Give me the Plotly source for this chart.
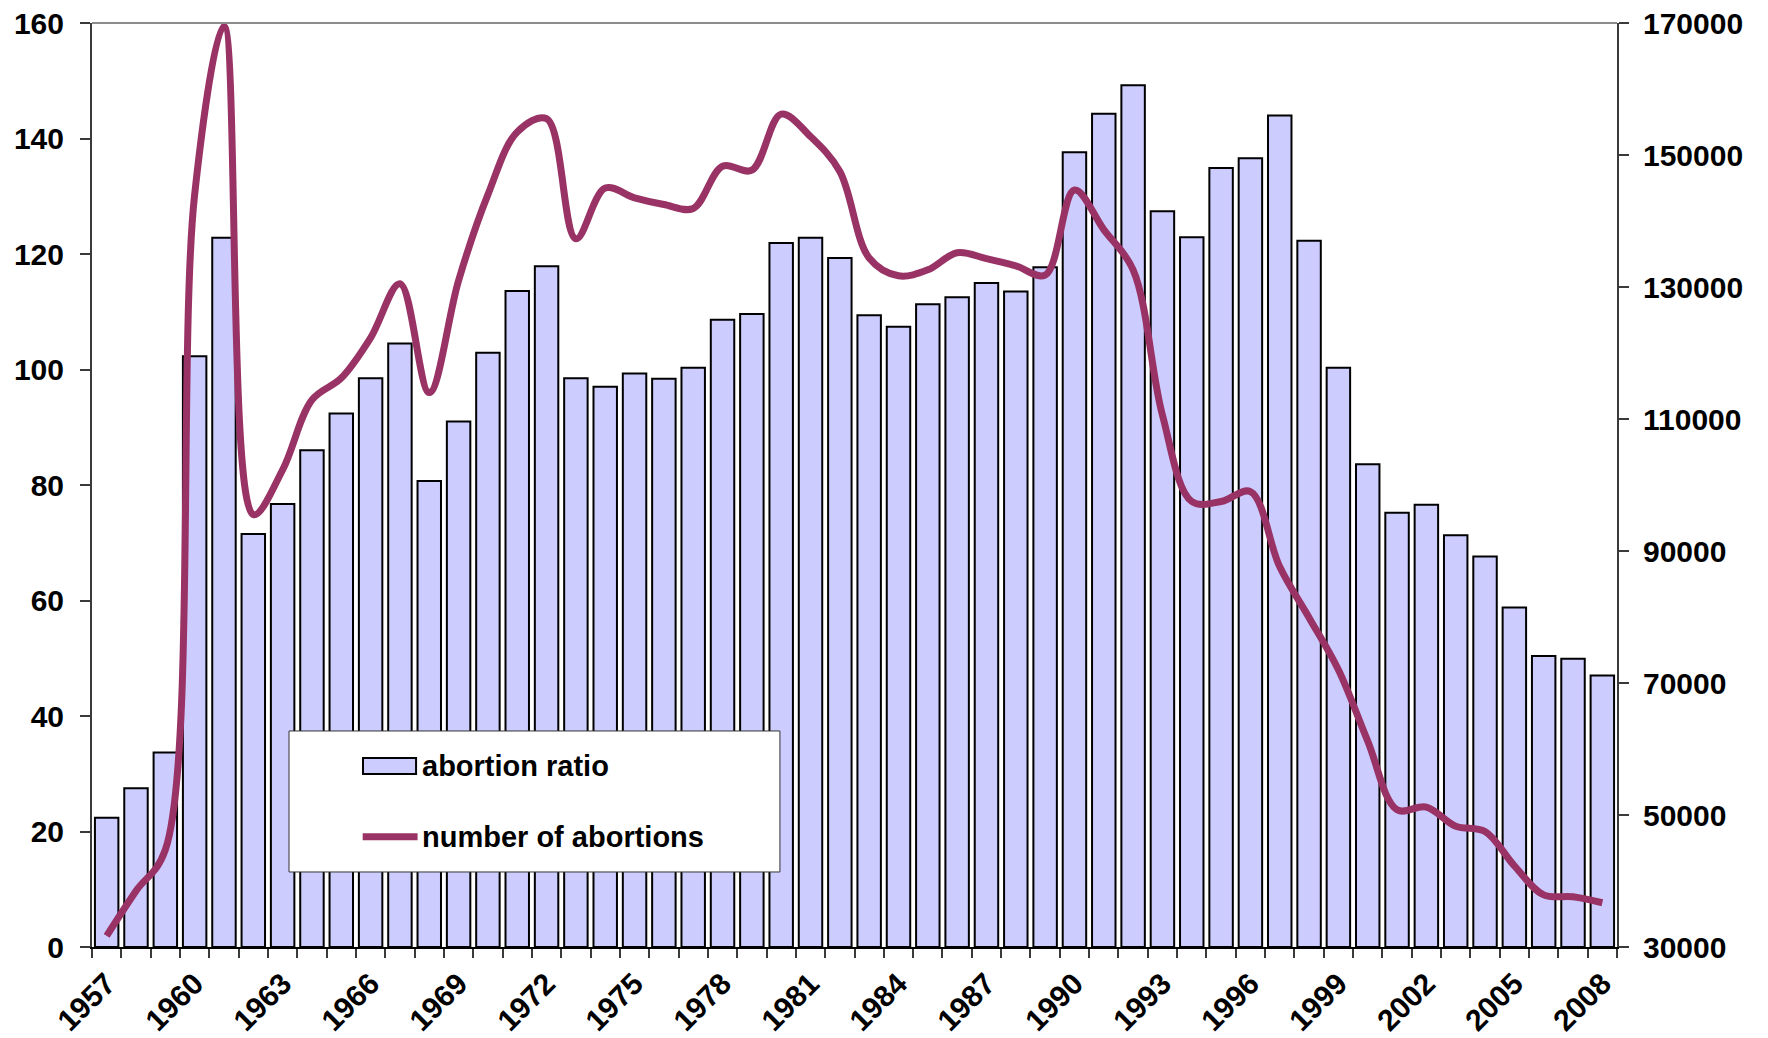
import plotly.graph_objects as go

years = list(range(1957, 2009))

abortion_ratio = [22.4, 27.5, 33.7, 102.3, 122.8, 71.5, 76.7, 86.0, 92.4, 98.5,
                  104.5, 80.7, 91.0, 102.9, 113.6, 117.9, 98.5, 97.0, 99.3, 98.4,
                  100.3, 108.6, 109.6, 121.9, 122.8, 119.3, 109.4, 107.4, 111.3, 112.5,
                  115.0, 113.5, 117.7, 137.6, 144.3, 149.2, 127.4, 122.9, 134.9, 136.6,
                  144.0, 122.3, 100.3, 83.6, 75.2, 76.6, 71.3, 67.6, 58.8, 50.4,
                  49.9, 47.0]

number_of_abortions = [31700, 38500, 44700, 144000, 169500, 95500, 102300, 112900, 116200, 122300,
                       130500, 114000, 131000, 144000, 153500, 155500, 137300, 145000, 143500, 142500,
                       141900, 148300, 147700, 156200, 152800, 147500, 134400, 131700, 132600, 135200,
                       134300, 133200, 131800, 144700, 138700, 132600, 110600, 97500, 97500, 99000,
                       87600, 79900, 72000, 61200, 50800, 51200, 48300, 47500, 42300, 37900,
                       37600, 36700]

series_names = ["abortion ratio", "number of abortions"]
label_years = years[::3]
left_ticks = list(range(0, 161, 20))
right_ticks = list(range(30000, 170001, 20000))
boundaries = [y - 0.5 for y in years] + [years[-1] + 0.5]

FONT = "Liberation Sans, Arial, sans-serif"
AX = "#3a3a3a"
BAR_FILL = "#CCCCFF"
LINE_COL = "#993366"

fig = go.Figure()
fig.add_trace(go.Bar(
    x=years, y=abortion_ratio, name=series_names[0],
    marker=dict(color=BAR_FILL, line=dict(color="black", width=2)),
    yaxis="y", showlegend=False,
))
fig.add_trace(go.Scatter(
    x=years, y=number_of_abortions, name=series_names[1],
    mode="lines", line=dict(color=LINE_COL, width=7, shape="spline", smoothing=1.0),
    yaxis="y2", showlegend=False,
))

xr = [years[0] - 0.5, years[-1] + 0.5]

# legend box (drawn manually to match the original's wide box and long keys)
legend_shapes = [
    dict(type="rect", xref="paper", yref="paper", x0=0.1292, x1=0.4511,
         y0=0.0812, y1=0.2338, fillcolor="white",
         line=dict(color="#333333", width=1), layer="above"),
    dict(type="rect", xref="paper", yref="paper", x0=0.1777, x1=0.2125,
         y0=0.1872, y1=0.2045, fillcolor=BAR_FILL,
         line=dict(color="black", width=2), layer="above"),
    dict(type="line", xref="paper", yref="paper", x0=0.1775, x1=0.2135,
         y0=0.1194, y1=0.1194, line=dict(color=LINE_COL, width=7), layer="above"),
]
legend_texts = [
    dict(text=series_names[0], xref="paper", yref="paper", x=0.2150, y=0.1959,
         xanchor="left", yanchor="middle", showarrow=False,
         font=dict(family=FONT, size=29, color="black", weight=700)),
    dict(text=series_names[1], xref="paper", yref="paper", x=0.2150, y=0.1194,
         xanchor="left", yanchor="middle", showarrow=False,
         font=dict(family=FONT, size=29, color="black", weight=700)),
]

fig.update_layout(
    width=1760, height=1030,
    margin=dict(l=84, r=151, t=15, b=91),
    paper_bgcolor="white", plot_bgcolor="white",
    font=dict(family=FONT, size=30, color="black", weight=700),
    bargap=0.2,
    showlegend=False,
    xaxis=dict(
        type="linear", range=xr, tickmode="array", tickvals=label_years,
        ticktext=[str(y) for y in label_years], tickangle=-45, ticks="",
        ticklabelstandoff=5, ticklabeloverflow="allow",
        showline=True, linecolor="black", linewidth=2, showgrid=False, zeroline=False,
        minor=dict(tickmode="array", tickvals=boundaries, ticks="outside", ticklen=9,
                   tickcolor=AX, tickwidth=1.5, showgrid=False),
        automargin=False,
    ),
    xaxis3=dict(
        overlaying="x", anchor="y", type="linear", range=xr, tickmode="array",
        tickvals=boundaries, ticks="inside", ticklen=9, tickcolor=AX, tickwidth=1.5,
        showticklabels=False, showline=False, showgrid=False, zeroline=False,
        automargin=False,
    ),
    yaxis=dict(
        range=[0, 160], tickmode="array", tickvals=left_ticks, ticks="outside",
        ticklen=10, tickcolor=AX, tickwidth=1.5, showline=True, linecolor=AX,
        linewidth=2, showgrid=False, zeroline=False, ticklabelstandoff=10,
        ticklabeloverflow="allow", automargin=False,
    ),
    yaxis3=dict(
        overlaying="y", side="left", range=[0, 160], tickmode="array",
        tickvals=left_ticks, ticks="inside", ticklen=10, tickcolor=AX, tickwidth=1.5,
        showticklabels=False, showline=False, showgrid=False, zeroline=False,
        automargin=False,
    ),
    yaxis2=dict(
        overlaying="y", side="right", range=[30000, 170000], tickmode="array",
        tickvals=right_ticks, tickformat="d", ticks="outside", ticklen=10,
        tickcolor=AX, tickwidth=1.5, showline=True, linecolor=AX, linewidth=2,
        showgrid=False, zeroline=False, ticklabelstandoff=8,
        ticklabeloverflow="allow", automargin=False,
    ),
    yaxis4=dict(
        overlaying="y", side="right", range=[30000, 170000], tickmode="array",
        tickvals=right_ticks, ticks="inside", ticklen=10, tickcolor=AX, tickwidth=1.5,
        showticklabels=False, showline=False, showgrid=False, zeroline=False,
        automargin=False,
    ),
    shapes=[
        dict(type="line", xref="paper", yref="paper", x0=0, x1=1, y0=1, y1=1,
             line=dict(color="#8c8c8c", width=2), layer="above"),
    ] + legend_shapes,
    annotations=legend_texts,
)

fig.write_html("out.html")
